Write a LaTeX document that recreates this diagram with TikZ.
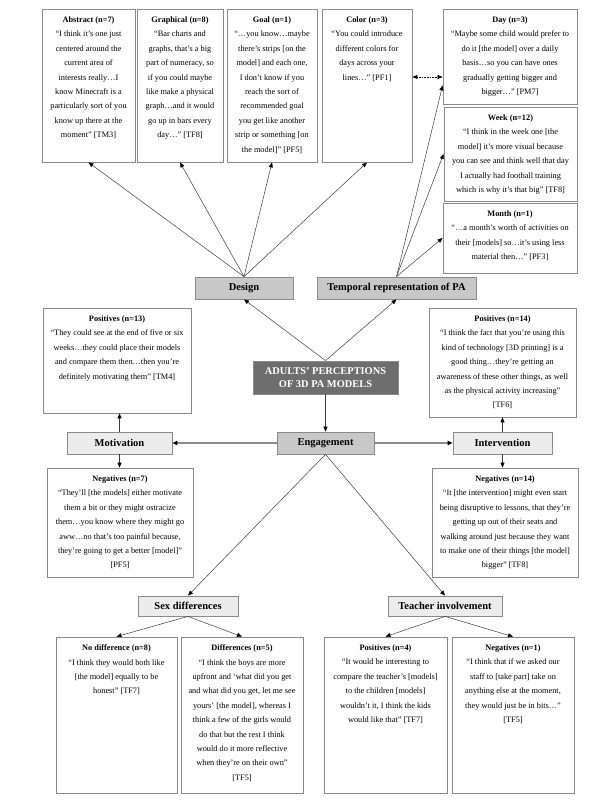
\documentclass[tikz,border=0pt]{standalone}
\usepackage{fontspec}
\setmainfont{Liberation Serif}
\usetikzlibrary{arrows.meta}
\definecolor{catfill}{HTML}{C8C8C8}
\definecolor{lightfill}{HTML}{ECECEC}
\definecolor{corefill}{HTML}{6E6E6E}
\definecolor{edgegray}{HTML}{8A8A8A}
\definecolor{linegray}{HTML}{3A3A3A}
\definecolor{thickgray}{HTML}{8C8C8C}
\begin{document}
\begin{tikzpicture}[x=1pt,y=-1pt,
  qbox/.style={draw=edgegray,line width=0.8pt,fill=white,inner sep=0pt},
  qtext/.style={anchor=north,align=center,inner sep=0pt,font=\fontsize{8.3}{14.4}\selectfont},
  catbox/.style={draw=edgegray,line width=0.8pt,fill=catfill,inner sep=0pt,minimum height=22pt,font=\bfseries\fontsize{10.5}{12}\selectfont},
  subbox/.style={catbox,fill=lightfill},
  corebox/.style={draw=edgegray,line width=0.8pt,fill=corefill,text=white,inner sep=0pt,align=center,font=\bfseries\fontsize{10.4}{12.5}\selectfont},
  arr/.style={draw=linegray,line width=0.5pt,-{Triangle[length=5pt,width=4pt,color=black]}},
  garr/.style={draw=thickgray,line width=1.2pt,-{Triangle[length=5pt,width=4.5pt,color=black]}},
  dotarr/.style={draw=black,line width=0.6pt,densely dotted,{Triangle[length=5pt,width=4pt]}-{Triangle[length=5pt,width=4pt]}}
]
\useasboundingbox (0,0) rectangle (615,800);

% ---------- top row design boxes ----------
\node[qbox,minimum width=93pt,minimum height=153pt] (abs) at (88.5,85.5) {};
\node[qtext] (absT) at ([yshift=-8pt]abs.north) {\textbf{Abstract (n=7)}\\“I think it’s one just\\centered around the\\current area of\\interests really…I\\know Minecraft is a\\particularly sort of you\\know up there at the\\moment” [TM3]};

\node[qbox,minimum width=86pt,minimum height=153pt] (gra) at (180,85.5) {};
\node[qtext] (graT) at ([yshift=-8pt]gra.north) {\textbf{Graphical (n=8)}\\“Bar charts and\\graphs, that’s a big\\part of numeracy, so\\if you could maybe\\like make a physical\\graph…and it would\\go up in bars every\\day…” [TF8]};

\node[qbox,minimum width=90pt,minimum height=153pt] (goal) at (272,85.5) {};
\node[qtext] (goalT) at ([yshift=-8pt]goal.north) {\textbf{Goal (n=1)}\\“…you know…maybe\\there’s strips [on the\\model] and each one,\\I don’t know if you\\reach the sort of\\recommended goal\\you get like another\\strip or something [on\\the model]” [PF5]};

\node[qbox,minimum width=90pt,minimum height=153pt] (col) at (367,85.5) {};
\node[qtext] (colT) at ([yshift=-8pt]col.north) {\textbf{Color (n=3)}\\“You could introduce\\different colors for\\days across your\\lines…” [PF1]};

% ---------- temporal boxes ----------
\node[qbox,minimum width=134pt,minimum height=95pt] (day) at (510,56.5) {};
\node[qtext] (dayT) at ([yshift=-8pt]day.north) {\textbf{Day (n=3)}\\“Maybe some child would prefer to\\do it [the model] over a daily\\basis…so you can have ones\\gradually getting bigger and\\bigger…” [PM7]};

\node[qbox,minimum width=133pt,minimum height=94pt] (week) at (510.5,154) {};
\node[qtext] (weekT) at ([yshift=-8pt]week.north) {\textbf{Week (n=12)}\\“I think in the week one [the\\model] it’s more visual because\\you can see and think well that day\\I actually had football training\\which is why it’s that big” [TF8]};

\node[qbox,minimum width=134pt,minimum height=70pt] (month) at (510,238) {};
\node[qtext] (monthT) at ([yshift=-8pt]month.north) {\textbf{Month (n=1)}\\“…a month’s worth of activities on\\their [models] so…it’s using less\\material then…” [PF3]};

% ---------- category boxes ----------
\node[catbox,minimum width=98pt] (design) at (244,288) {Design};
\node[catbox,minimum width=159pt] (temp) at (396.5,288) {Temporal representation of PA};

\node[corebox,minimum width=145pt,minimum height=33pt] (core) at (325.5,377.5) {ADULTS’ PERCEPTIONS\\OF 3D PA MODELS};

\node[catbox,minimum width=97pt] (eng) at (325.5,443) {Engagement};
\node[subbox,minimum width=105pt] (mot) at (119.5,443) {Motivation};
\node[subbox,minimum width=99pt] (int) at (502.5,443) {Intervention};

% ---------- motivation / intervention quote boxes ----------
\node[qbox,minimum width=148pt,minimum height=105pt] (pos13) at (117,360.5) {};
\node[qtext] (pos13T) at ([yshift=-8pt]pos13.north) {\textbf{Positives (n=13)}\\“They could see at the end of five or six\\weeks…they could place their models\\and compare them then…then you’re\\definitely motivating them” [TM4]};

\node[qbox,minimum width=146pt,minimum height=109pt] (neg7) at (120,522.5) {};
\node[qtext] (neg7T) at ([yshift=-8pt]neg7.north) {\textbf{Negatives (n=7)}\\“They’ll [the models] either motivate\\them a bit or they might ostracize\\them…you know where they might go\\aww…no that’s too painful because,\\they’re going to get a better [model]”\\{[PF5]}};

\node[qbox,minimum width=147pt,minimum height=109pt] (pos14) at (502.5,362.5) {};
\node[qtext] (pos14T) at ([yshift=-8pt]pos14.north) {\textbf{Positives (n=14)}\\“I think the fact that you’re using this\\kind of technology [3D printing] is a\\good thing…they’re getting an\\awareness of these other things, as well\\as the physical activity increasing”\\{[TF6]}};

\node[qbox,minimum width=146pt,minimum height=109pt] (neg14) at (505,522.5) {};
\node[qtext] (neg14T) at ([yshift=-8pt]neg14.north) {\textbf{Negatives (n=14)}\\“It [the intervention] might even start\\being disruptive to lessons, that they’re\\getting up out of their seats and\\walking around just because they want\\to make one of their things [the model]\\bigger” [TF8]};

% ---------- sex / teacher ----------
\node[subbox,minimum width=100pt,minimum height=20pt] (sex) at (188,606) {Sex differences};
\node[subbox,minimum width=114pt,minimum height=20pt] (teach) at (445,606) {Teacher involvement};

\node[qbox,minimum width=121pt,minimum height=156pt] (nodiff) at (116.5,715) {};
\node[qtext] (nodiffT) at ([yshift=-8pt]nodiff.north) {\textbf{No difference (n=8)}\\“I think they would both like\\{[the model]} equally to be\\honest” [TF7]};

\node[qbox,minimum width=122pt,minimum height=156pt] (diff) at (242,715) {};
\node[qtext] (diffT) at ([yshift=-8pt]diff.north) {\textbf{Differences (n=5)}\\“I think the boys are more\\upfront and ‘what did you get\\and what did you get, let me see\\yours’ [the model], whereas I\\think a few of the girls would\\do that but the rest I think\\would do it more reflective\\when they’re on their own”\\{[TF5]}};

\node[qbox,minimum width=123pt,minimum height=156pt] (post) at (385.5,715) {};
\node[qtext] (postT) at ([yshift=-8pt]post.north) {\textbf{Positives (n=4)}\\“It would be interesting to\\compare the teacher’s [models]\\to the children [models]\\wouldn’t it, I think the kids\\would like that” [TF7]};

\node[qbox,minimum width=122pt,minimum height=156pt] (negt) at (513,715) {};
\node[qtext] (negtT) at ([yshift=-8pt]negt.north) {\textbf{Negatives (n=1)}\\“I think that if we asked our\\staff to [take part] take on\\anything else at the moment,\\they would just be in bits…”\\{[TF5]}};

% ---------- connectors ----------
\draw[arr] (design.north) -- (abs.south);
\draw[arr] (design.north) -- (gra.south);
\draw[arr] (design.north) -- (goal.south);
\draw[arr] (design.north) -- (col.south);

\draw[arr] (temp.north) -- ([yshift=19pt]day.south west);
\draw[arr] (temp.north) -- (week.west);
\draw[arr] (temp.north) -- (month.west);

\draw[dotarr] ([yshift=8.5pt]col.east) -- ([yshift=8.5pt]col.east -| day.west);

\draw[arr] (core.north) -- (design.south);
\draw[arr] (core.north) -- (temp.south);
\draw[arr] (core.south) -- (eng.north);

\draw[garr] (eng.west) -- (mot.east);
\draw[garr] (eng.east) -- (int.west);

\draw[arr] (mot.north) -- (mot.north |- pos13.south);
\draw[arr] (mot.south) -- (mot.south |- neg7.north);
\draw[arr] (int.north) -- (int.north |- pos14.south);
\draw[arr] (int.south) -- (int.south |- neg14.north);

\draw[arr] (eng.south) -- (sex.north);
\draw[arr] (eng.south) -- (teach.north);

\draw[arr] (sex.south) -- (nodiff.north);
\draw[arr] (sex.south) -- (diff.north);
\draw[arr] (teach.south) -- (post.north);
\draw[arr] (teach.south) -- (negt.north);
\end{tikzpicture}
\end{document}
